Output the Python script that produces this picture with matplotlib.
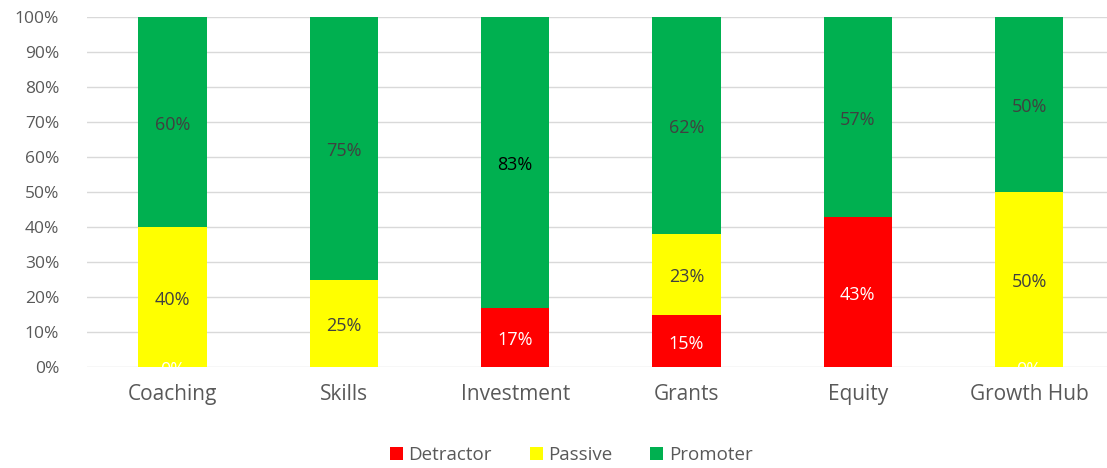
import matplotlib.pyplot as plt
import numpy as np

# data (percent of respondents)
categorias = ["Coaching", "Skills", "Investment", "Grants", "Equity", "Growth Hub"]
detractor = [0, None, 17, 15, 43, 0]
passive = [40, 25, None, 23, None, 50]
promoter = [60, 75, 83, 62, 57, 50]

cores = {"Detractor": "#ff0000", "Passive": "#ffff00", "Promoter": "#00b050"}

plt.rcParams['font.family'] = ['Open Sans', 'DejaVu Sans']

fig = plt.figure(figsize=(11.07, 4.68), dpi=100)
ax = fig.add_axes([87 / 1107, 1 - 367 / 468, 1 - 87 / 1107, (367 - 17) / 468])

x = np.arange(len(categorias))
largura = 0.4


def val(v):
    return 0 if v is None else v


base = np.zeros(len(categorias))
series = [("Detractor", detractor), ("Passive", passive), ("Promoter", promoter)]
for nome, valores in series:
    alturas = np.array([val(v) for v in valores], dtype=float)
    ax.bar(x, alturas, largura, bottom=base, color=cores[nome], label=nome, zorder=2)
    for i, v in enumerate(valores):
        if v is None:
            continue
        if nome == "Detractor":
            cor_txt = "white"
        elif nome == "Promoter" and v == 83:
            cor_txt = "black"
        else:
            cor_txt = "#404040"
        ax.text(x[i], base[i] + v / 2 - 0.8, f"{v}%", ha="center", va="center",
                fontsize=13, color=cor_txt, zorder=3, clip_on=True)
    base += alturas

ax.set_ylim(0, 100)
ax.set_xlim(-0.5, 5.455)
ax.set_yticks(range(0, 101, 10))
ax.set_yticklabels([f"{t}%" for t in range(0, 101, 10)])
ax.set_xticks(x)
ax.set_xticklabels(categorias)
ax.tick_params(axis="y", length=0, labelsize=12.5, labelcolor="#595959", pad=20)
ax.tick_params(axis="x", length=0, labelsize=15, labelcolor="#595959", pad=12)
ax.grid(axis="y", color="#d9d9d9", linewidth=1, zorder=0)
for s in ax.spines.values():
    s.set_visible(False)

fig.legend(loc="lower center", bbox_to_anchor=(0.516, -0.028), ncol=3, frameon=False,
           fontsize=13.5, labelcolor="#595959", handlelength=0.7, handleheight=0.7,
           handletextpad=0.3, columnspacing=2.0)

fig.savefig("out.png", dpi=100)
